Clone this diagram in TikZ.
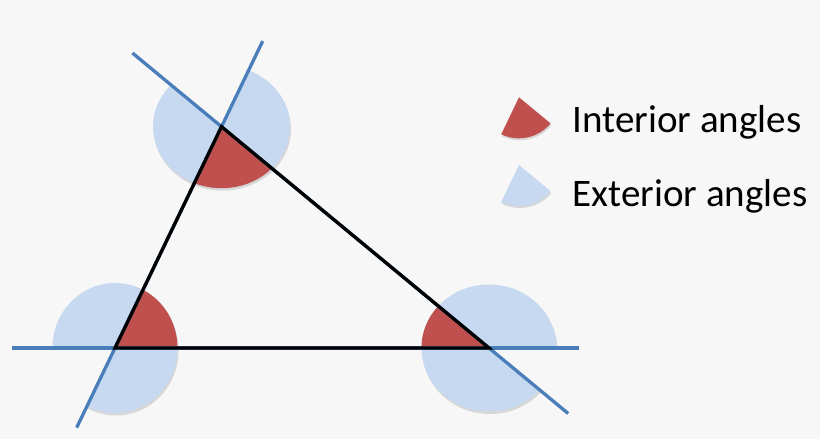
\documentclass[tikz,border=0pt]{standalone}
\usepackage{fontspec}
\setmainfont{Carlito}
\usetikzlibrary{calc}
\definecolor{bg}{HTML}{F7F7F7}
\definecolor{extblue}{HTML}{C6D9F1}
\definecolor{intred}{HTML}{C0504D}
\definecolor{lineblue}{HTML}{4A7EBB}
\begin{document}
\begin{tikzpicture}[x=1pt,y=1pt,
  extfill/.style={fill=extblue},
  intfill/.style={fill=intred},
  shadowfill/.style={fill=black,opacity=0.13},
  extline/.style={draw=lineblue,line width=3.3pt},
  side/.style={draw=black,line width=3.3pt},
  legendtext/.style={font=\fontsize{39}{40}\selectfont,anchor=base west,inner sep=0pt,text=black}]
\fill[bg] (0,0) rectangle (820,439);
\useasboundingbox (0,0) rectangle (820,439);
\coordinate (A) at (115,91);
\coordinate (B) at (221.5,312.3);
\coordinate (C) at (489,91);
% exterior (blue) regions
\begin{scope}
\clip (A) -- ($(A)+(244.3:300)$) -- ($(A)+(300:300)$) -- ($(A)+(0:300)$) -- ($(A)+(60:300)$) -- ($(A)+(120:300)$) -- ($(A)+(180:300)$) -- cycle;
\fill[shadowfill] ($(A)+(1,-2.5)$) ellipse[x radius=62.5,y radius=65];
\fill[extfill] (A) ellipse[x radius=62.5,y radius=65];
\end{scope}
\begin{scope}
\clip (B) -- ($(B)+(140.4:300)$) -- ($(B)+(200:300)$) -- ($(B)+(260:300)$) -- ($(B)+(320:300)$) -- ($(B)+(380:300)$) -- ($(B)+(424.3:300)$) -- cycle;
\fill[shadowfill] ($(B)+(1,-2.5)$) ellipse[x radius=68.5,y radius=61.5];
\fill[extfill] (B) ellipse[x radius=68.5,y radius=61.5];
\end{scope}
\begin{scope}
\clip (C) -- ($(C)+(0:300)$) -- ($(C)+(60:300)$) -- ($(C)+(120:300)$) -- ($(C)+(180:300)$) -- ($(C)+(240:300)$) -- ($(C)+(300:300)$) -- ($(C)+(320.4:300)$) -- cycle;
\fill[shadowfill] ($(C)+(1,-2.5)$) ellipse[x radius=67.5,y radius=63.5];
\fill[extfill] (C) ellipse[x radius=67.5,y radius=63.5];
\end{scope}
% interior (red) sectors
\begin{scope}
\clip (A) -- (B) -- (C) -- cycle;
\fill[intfill] (A) ellipse[x radius=62.5,y radius=65];
\fill[intfill] (B) ellipse[x radius=68.5,y radius=61.5];
\fill[intfill] (C) ellipse[x radius=67.5,y radius=63.5];
\end{scope}
% extended lines
\coordinate (ab1) at ($(A)!-0.36!(B)$);
\coordinate (ab2) at ($(A)!1.387!(B)$);
\coordinate (bc1) at ($(B)!-0.333!(C)$);
\coordinate (bc2) at ($(B)!1.296!(C)$);
\coordinate (ac1) at ($(A)!-0.276!(C)$);
\coordinate (ac2) at ($(A)!1.241!(C)$);
\draw[extline] (ab1) -- (ab2);
\draw[extline] (bc1) -- (bc2);
\draw[extline] (ac1) -- (ac2);
% triangle
\draw[side] (A) -- (B) -- (C) -- cycle;
% legend
\coordinate (L1) at (519,341.7);
\coordinate (L2) at (519,274);
\fill[shadowfill] ($(L1)+(0.8,-2)$) -- ++(244.3:41) arc[start angle=244.3,end angle=320.4,radius=41] -- cycle;
\fill[intfill] (L1) -- ++(244.3:41) arc[start angle=244.3,end angle=320.4,radius=41] -- cycle;
\fill[shadowfill] ($(L2)+(0.8,-2)$) -- ++(244.3:41) arc[start angle=244.3,end angle=320.4,radius=41] -- cycle;
\fill[extfill] (L2) -- ++(244.3:41) arc[start angle=244.3,end angle=320.4,radius=41] -- cycle;
\node[legendtext] (tint) at (572.5,306.7) {Interior angles};
\node[legendtext] (text) at (572.5,232.3) {Exterior angles};
\end{tikzpicture}
\end{document}
